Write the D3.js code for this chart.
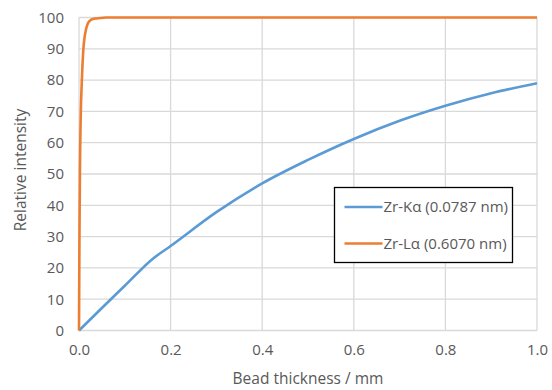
<!DOCTYPE html>
<html>
<head>
<meta charset="utf-8">
<script src="https://cdn.jsdelivr.net/npm/d3@7"></script>
<style>
  body { margin: 0; background: #fff; }
  svg text { font-family: "Open Sans", sans-serif; fill: #595959; }
</style>
</head>
<body>
<svg id="chart" width="552" height="390"></svg>
<script>
// values
var kaThickness = [0, 0.05, 0.1, 0.16, 0.2, 0.3, 0.4, 0.5, 0.6, 0.7, 0.8, 0.9, 1.0];
var kaIntensity = [0, 7.2, 14.3, 22.8, 27.0, 37.8, 47.0, 54.5, 61.2, 67.0, 71.8, 75.8, 79.0];

var laThickness = [0, 0.001, 0.002, 0.004, 0.006, 0.0094, 0.012, 0.015, 0.019, 0.024, 0.03, 0.039, 0.06, 0.2, 0.4, 0.6, 0.8, 1.0];
var laIntensity = [0, 30, 50, 70, 79, 89.6, 93.5, 96.0, 98.0, 99.0, 99.5, 99.7, 100, 100, 100, 100, 100, 100];

var seriesNames = ["Zr-K\u03b1 (0.0787 nm)", "Zr-L\u03b1 (0.6070 nm)"];
var seriesColors = ["#5b9bd5", "#ed7d31"];

var xTicks = [0, 0.2, 0.4, 0.6, 0.8, 1.0];
var yTicks = [0, 10, 20, 30, 40, 50, 60, 70, 80, 90, 100];

var svg = d3.select("#chart");
var m = { left: 79, right: 15, top: 17.5, bottom: 59.5 };
var W = 552, H = 390;

var x = d3.scaleLinear().domain([0, 1]).range([m.left, W - m.right]);
var y = d3.scaleLinear().domain([0, 100]).range([H - m.bottom, m.top]);

/* grid */
var grid = svg.append("g").attr("stroke", "#d9d9d9").attr("stroke-width", 1.3);
grid.selectAll(".gy").data(yTicks).enter().append("line")
    .attr("x1", x(0)).attr("x2", x(1))
    .attr("y1", function(d) { return y(d); }).attr("y2", function(d) { return y(d); });
grid.selectAll(".gx").data(xTicks).enter().append("line")
    .attr("y1", y(0)).attr("y2", y(100))
    .attr("x1", function(d) { return x(d); }).attr("x2", function(d) { return x(d); });

/* axes - only labels, lines come from grid */
var xAxis = svg.append("g").attr("transform", "translate(0," + y(0) + ")")
    .call(d3.axisBottom(x).tickValues(xTicks).tickFormat(d3.format(".1f")).tickSize(0).tickPadding(14));
var yAxis = svg.append("g").attr("transform", "translate(" + x(0) + ",0)")
    .call(d3.axisLeft(y).tickValues(yTicks).tickSize(0).tickPadding(15));
[xAxis, yAxis].forEach(function(a) {
    a.select(".domain").remove();
    a.selectAll("text").attr("font-size", 15).attr("font-family", "Open Sans").attr("fill", "#595959");
});

/* lines */
var line = d3.line().curve(d3.curveMonotoneX)
    .x(function(d) { return x(d[0]); })
    .y(function(d) { return y(d[1]); });

svg.append("path")
    .datum(d3.zip(kaThickness, kaIntensity))
    .attr("d", line).attr("fill", "none")
    .attr("stroke", seriesColors[0]).attr("stroke-width", 2.6);

svg.append("path")
    .datum(d3.zip(laThickness, laIntensity))
    .attr("d", line).attr("fill", "none")
    .attr("stroke", seriesColors[1]).attr("stroke-width", 2.6);

/* axis titles */
svg.append("text")
    .attr("x", (x(0) + x(1)) / 2).attr("y", 384)
    .attr("text-anchor", "middle").attr("font-size", 15.5)
    .text("Bead thickness / mm");

svg.append("text")
    .attr("transform", "translate(26,170) rotate(-90)")
    .attr("text-anchor", "middle").attr("font-size", 15.5)
    .text("Relative intensity");

/* legend */
var lg = svg.append("g").attr("transform", "translate(334.5,187.5)");
lg.append("rect").attr("width", 178).attr("height", 75)
    .attr("fill", "#fff").attr("stroke", "#000").attr("stroke-width", 1.3);
var rows = lg.selectAll(".row").data(seriesNames).enter().append("g")
    .attr("transform", function(d, i) { return "translate(0," + (19.5 + i * 36.5) + ")"; });
rows.append("line").attr("x1", 10).attr("x2", 48)
    .attr("stroke", function(d, i) { return seriesColors[i]; }).attr("stroke-width", 2.6);
rows.append("text").attr("x", 49).attr("dy", "0.35em")
    .attr("font-size", 15)
    .text(function(d) { return d; });
</script>
</body>
</html>
